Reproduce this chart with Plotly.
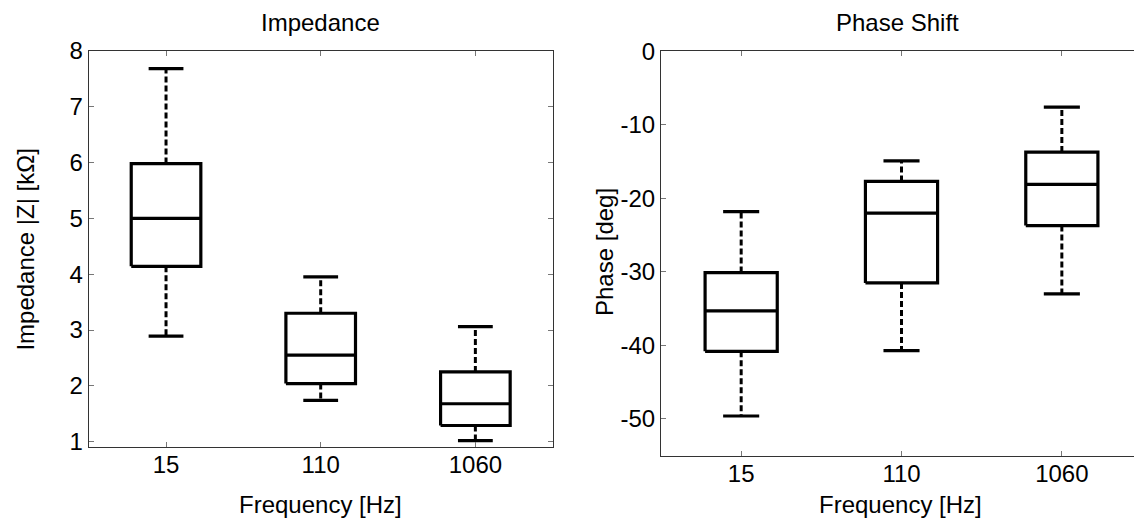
import plotly.graph_objects as go

# ---- data ----
categories = ["15", "110", "1060"]

imp_lower = [2.89, 1.74, 1.02]
imp_q1 = [4.14, 2.04, 1.29]
imp_median = [5.00, 2.55, 1.68]
imp_q3 = [5.98, 3.30, 2.25]
imp_upper = [7.68, 3.95, 3.06]

phase_lower = [-49.6, -40.7, -33.0]
phase_q1 = [-40.8, -31.5, -23.7]
phase_median = [-35.3, -22.0, -18.1]
phase_q3 = [-30.1, -17.7, -13.7]
phase_upper = [-21.8, -14.9, -7.6]

imp_ticks = [1, 2, 3, 4, 5, 6, 7, 8]
phase_ticks = [0, -10, -20, -30, -40, -50]

W, H = 1134, 527
FONT = "Liberation Sans, Arial, Helvetica, sans-serif"
FS = 24
HALF = 0.225   # half box width (data units)
CAP = 0.1125   # half cap width


def box_paths(lower, q1, med, q3, upper):
    bx, by, wx, wy = [], [], [], []
    for i in range(len(q1)):
        c = i + 1
        bx += [c - HALF, c + HALF, c + HALF, c - HALF, c - HALF, None,
               c - HALF, c + HALF, None,
               c - CAP, c + CAP, None,
               c - CAP, c + CAP, None]
        by += [q1[i], q1[i], q3[i], q3[i], q1[i], None,
               med[i], med[i], None,
               upper[i], upper[i], None,
               lower[i], lower[i], None]
        wx += [c, c, None, c, c, None]
        wy += [q3[i], upper[i], None, q1[i], lower[i], None]
    return bx, by, wx, wy


fig = go.Figure()

for (lo, q1, md, q3, up), xa, ya in [
    ((imp_lower, imp_q1, imp_median, imp_q3, imp_upper), "x", "y"),
    ((phase_lower, phase_q1, phase_median, phase_q3, phase_upper), "x2", "y2"),
]:
    bx, by, wx, wy = box_paths(lo, q1, md, q3, up)
    fig.add_trace(go.Scatter(x=wx, y=wy, mode="lines", xaxis=xa, yaxis=ya,
                             line=dict(color="black", width=3, dash="6px,3px"),
                             hoverinfo="skip", showlegend=False))
    fig.add_trace(go.Scatter(x=bx, y=by, mode="lines", xaxis=xa, yaxis=ya,
                             line=dict(color="black", width=3.2),
                             hoverinfo="skip", showlegend=False))

common = dict(showline=True, linecolor="#333333", linewidth=1,
              ticks="inside", ticklen=5, tickcolor="#777777", tickwidth=1,
              showgrid=False, zeroline=False, automargin=False,
              tickfont=dict(family=FONT, size=FS, color="black"))

fig.update_layout(
    width=W, height=H,
    margin=dict(l=0, r=0, t=0, b=0, pad=0, autoexpand=False),
    paper_bgcolor="white", plot_bgcolor="white",
    showlegend=False,
    font=dict(family=FONT, size=FS, color="black"),
    xaxis=dict(domain=[88.7 / W, 552.7 / W], range=[0.5, 3.5],
               tickvals=[1, 2, 3], ticktext=categories, ticklabelstandoff=-4,
               mirror="ticks", anchor="y", **common),
    yaxis=dict(domain=[1 - 447.3 / H, 1 - 50.7 / H], range=[0.9, 8],
               tickvals=imp_ticks, ticktext=[str(v) for v in imp_ticks],
               mirror="ticks", anchor="x", **common),
    xaxis2=dict(domain=[661.0 / W, 1.0], range=[0.5, 3.45],
                tickvals=[1, 2, 3], ticktext=categories, ticklabelstandoff=-4,
                mirror="ticks", anchor="y2", **common),
    yaxis2=dict(domain=[1 - 455.7 / H, 1 - 51.3 / H], range=[-55, 0],
                tickvals=phase_ticks, ticktext=[str(v) for v in phase_ticks],
                mirror=False, anchor="x2", **common),
)

def ann(text, xpx, ypx, angle=0):
    fig.add_annotation(text=text, x=xpx / W, y=1 - ypx / H, xref="paper", yref="paper",
                       xanchor="center", yanchor="middle", showarrow=False,
                       textangle=angle, font=dict(family=FONT, size=FS, color="black"))

ann("Impedance", 320.5, 22)
ann("Phase Shift", 897, 22)
ann("Frequency [Hz]", 320.5, 504)
ann("Frequency [Hz]", 900, 504)
ann("Impedance |Z| [kΩ]", 26, 249.6, -90)
ann("Phase [deg]", 604, 252, -90)

fig.write_html("out.html", config={"displayModeBar": False},
               post_script="document.body.style.margin='0';document.body.style.overflow='hidden';")
